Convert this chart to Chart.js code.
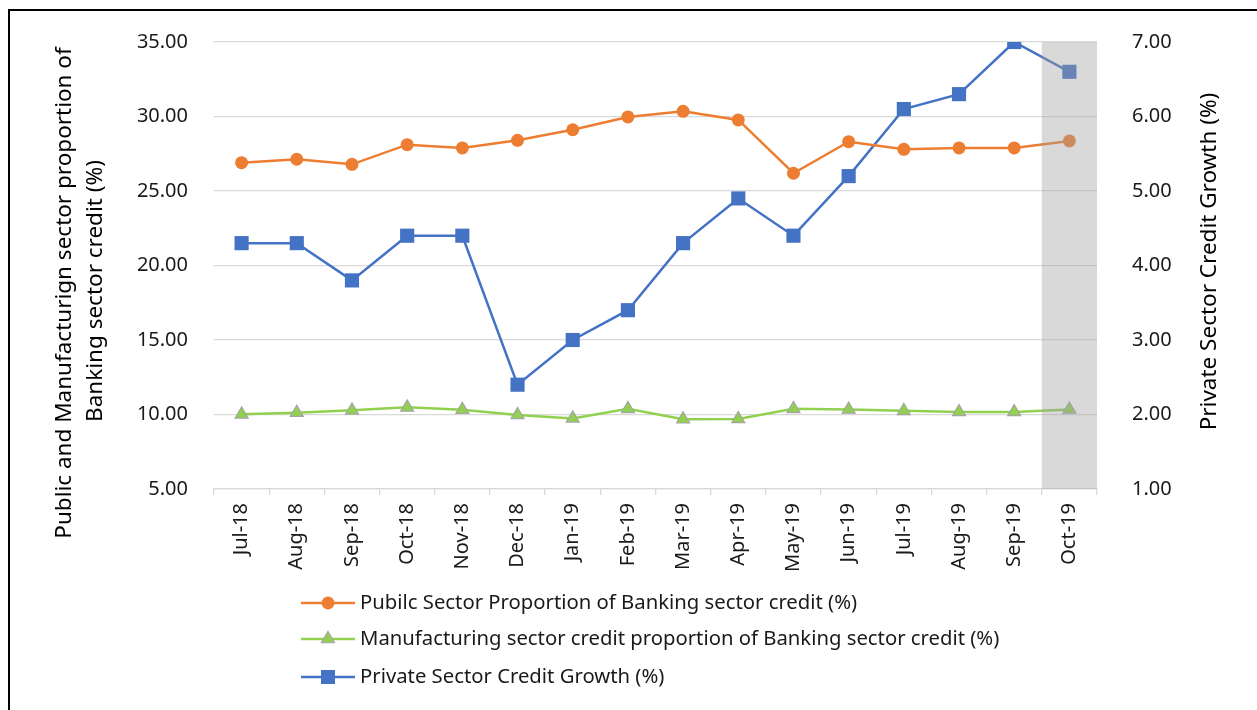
<!DOCTYPE html>
<html>
<head>
<meta charset="utf-8">
<script src="https://cdn.jsdelivr.net/npm/chart.js@4.4.1/dist/chart.umd.min.js"></script>
<style>
  html, body { margin: 0; padding: 0; background: #fff; }
  #wrap { position: relative; width: 1257px; height: 710px; overflow: hidden; }
  #frame { position: absolute; left: 8px; top: 9px; width: 1300px; height: 760px; border: 2px solid #000; box-sizing: border-box; }
  #chart { position: absolute; left: 0; top: 0; }
</style>
</head>
<body>
<div id="wrap">
  <div id="frame"></div>
  <canvas id="chart" width="1257" height="710"></canvas>
</div>
<script>
const months = ['Jul-18', 'Aug-18', 'Sep-18', 'Oct-18', 'Nov-18', 'Dec-18', 'Jan-19', 'Feb-19',
  'Mar-19', 'Apr-19', 'May-19', 'Jun-19', 'Jul-19', 'Aug-19', 'Sep-19', 'Oct-19']
const publicShare = [26.90, 27.13, 26.79, 28.11, 27.89, 28.40, 29.11, 29.97, 30.35, 29.77, 26.19, 28.31, 27.80, 27.89, 27.89, 28.36]
const manufShare = [10.01, 10.12, 10.28, 10.48, 10.32, 9.97, 9.74, 10.38, 9.68, 9.70, 10.38, 10.34, 10.25, 10.17, 10.17, 10.34]
const privateGrowth = [4.3, 4.3, 3.8, 4.4, 4.4, 2.4, 3.0, 3.4, 4.3, 4.9, 4.4, 5.2, 6.1, 6.3, 7.0, 6.6]
const shadedMonth = 'Oct-19'

const leftTitle = ['Public and Manufacturign sector proportion of', 'Banking sector credit (%)']
const rightTitle = 'Private Sector Credit Growth (%)'

const FONT = '"Noto Sans", "Open Sans", sans-serif'
const GRID = '#d9d9d9'

// grey band over the last (provisional) month, drawn on top of the lines
const shadePlugin = {
    id: 'shade',
    afterDatasetsDraw(chart) {
        const x = chart.scales.x, a = chart.chartArea, ctx = chart.ctx
        const i = months.indexOf(shadedMonth)
        const half = (x.getPixelForValue(1) - x.getPixelForValue(0)) / 2
        const left = x.getPixelForValue(i) - half
        ctx.save()
        ctx.fillStyle = 'rgba(161,161,161,0.4)'
        ctx.fillRect(left, a.top, a.right - left, a.bottom - a.top)
        ctx.restore()
    }
}

function marker(ctx, style, x, y, ds) {
    ctx.fillStyle = ds.pointBackgroundColor
    ctx.strokeStyle = ds.pointBorderColor
    ctx.lineWidth = ds.pointBorderWidth
    ctx.beginPath()
    if (style === 'circle') {
        ctx.arc(x, y, 6.5, 0, Math.PI * 2)
    } else if (style === 'triangle') {
        const r = 7.5
        ctx.moveTo(x, y - r)
        ctx.lineTo(x + r * 0.866, y + r / 2)
        ctx.lineTo(x - r * 0.866, y + r / 2)
        ctx.closePath()
    } else {
        ctx.rect(x - 7, y - 7, 14, 14)
    }
    ctx.fill()
    if (ds.pointBorderWidth) ctx.stroke()
}

function vText(ctx, text, x, y, size) {
    ctx.save()
    ctx.translate(x, y)
    ctx.rotate(-Math.PI / 2)
    ctx.fillStyle = '#000'
    ctx.font = size + 'px ' + FONT
    ctx.textAlign = 'center'
    ctx.textBaseline = 'middle'
    ctx.fillText(text, 0, 0)
    ctx.restore()
}

// legend stacked one entry per row (line + marker), and both axis titles reading bottom-up
const extrasPlugin = {
    id: 'extras',
    afterDraw(chart) {
        const ctx = chart.ctx
        const rows = [603, 639, 677]
        ctx.save()
        chart.data.datasets.forEach(function (ds, i) {
            const y = rows[i]
            ctx.strokeStyle = ds.borderColor
            ctx.lineWidth = 2.5
            ctx.beginPath()
            ctx.moveTo(301, y)
            ctx.lineTo(355, y)
            ctx.stroke()
            marker(ctx, ds.pointStyle, 328, y, ds)
            ctx.fillStyle = '#1a1a1a'
            ctx.font = '20.3px ' + FONT
            ctx.textAlign = 'left'
            ctx.textBaseline = 'middle'
            ctx.fillText(ds.label, 360, y)
        })
        ctx.restore()
        const a = chart.chartArea
        vText(ctx, leftTitle[0], 65, 293, 22.5)
        vText(ctx, leftTitle[1], 96, 291, 22.5)
        vText(ctx, rightTitle, chart.scales.y1.right - 47, (a.top + a.bottom) / 2 - 4, 22.5)
    }
}

const ctx = document.getElementById('chart').getContext('2d')
new Chart(ctx, {
    type: 'line',
    data: {
        labels: months,
        datasets: [
            {
                label: 'Pubilc Sector Proportion of Banking sector credit (%)',
                data: publicShare,
                yAxisID: 'y',
                borderColor: '#ED7D31',
                borderWidth: 2.5,
                pointStyle: 'circle',
                pointRadius: 6.5,
                pointBackgroundColor: '#ED7D31',
                pointBorderColor: '#ED7D31',
                pointBorderWidth: 0
            },
            {
                label: 'Manufacturing sector credit proportion of Banking sector credit (%)',
                data: manufShare,
                yAxisID: 'y',
                borderColor: '#92D050',
                borderWidth: 2.5,
                pointStyle: 'triangle',
                pointRadius: 7.5,
                pointBackgroundColor: '#92D050',
                pointBorderColor: '#A5A5A5',
                pointBorderWidth: 1.2
            },
            {
                label: 'Private Sector Credit Growth (%)',
                data: privateGrowth,
                yAxisID: 'y1',
                borderColor: '#4472C4',
                borderWidth: 2.5,
                pointStyle: 'rect',
                pointRadius: 10,
                pointBackgroundColor: '#4472C4',
                pointBorderColor: '#4472C4',
                pointBorderWidth: 0
            }
        ]
    },
    options: {
        responsive: false,
        animation: false,
        layout: {padding: {top: 42, left: 0, right: 0, bottom: 0}},
        plugins: {
            legend: {display: false},
            tooltip: {enabled: false}
        },
        scales: {
            x: {
                offset: true,
                afterFit: s => { s.height = 221 },
                grid: {offset: true, drawOnChartArea: false, drawTicks: true, tickLength: 6, color: GRID, lineWidth: 1.3},
                border: {display: true, color: GRID, width: 1.3},
                ticks: {autoSkip: false, minRotation: 90, maxRotation: 90, padding: 8, color: '#1a1a1a',
                    font: {family: FONT, size: 20}}
            },
            y: {
                position: 'left',
                min: 5, max: 35,
                afterFit: s => { s.width = 214 },
                grid: {color: GRID, lineWidth: 1.3, drawTicks: false},
                border: {display: false},
                ticks: {stepSize: 5, padding: 26, color: '#1a1a1a', font: {family: FONT, size: 20},
                    callback: v => v.toFixed(2)}
            },
            y1: {
                position: 'right',
                min: 1, max: 7,
                afterFit: s => { s.width = 160 },
                grid: {drawOnChartArea: false, display: false},
                border: {display: false},
                ticks: {stepSize: 1, padding: 27, color: '#1a1a1a', font: {family: FONT, size: 20},
                    callback: v => v.toFixed(2)}
            }
        }
    },
    plugins: [shadePlugin, extrasPlugin]
})
</script>
</body>
</html>
